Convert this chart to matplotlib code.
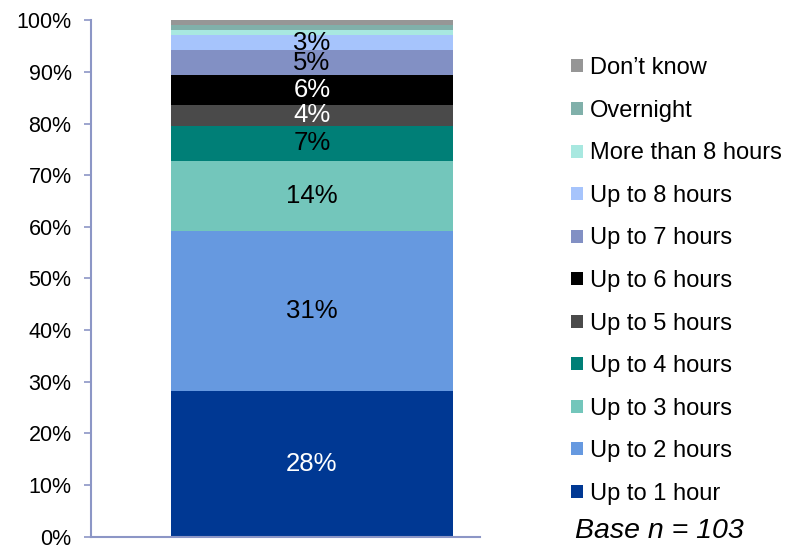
import numpy as np
import matplotlib.pyplot as plt
from matplotlib.patches import Patch
from matplotlib.ticker import PercentFormatter

plt.rcParams['font.family'] = ['Liberation Sans', 'DejaVu Sans']

# Respondents per answer (base n = 103), bottom to top of the stack
categories = ["Up to 1 hour", "Up to 2 hours", "Up to 3 hours", "Up to 4 hours",
              "Up to 5 hours", "Up to 6 hours", "Up to 7 hours", "Up to 8 hours",
              "More than 8 hours", "Overnight", "Don\u2019t know"]
counts = [29, 32, 14, 7, 4, 6, 5, 3, 1, 1, 1]
colors = ["#003893", "#6699e0", "#73c6bb", "#007f77", "#4a4a4a", "#000000",
          "#8290c4", "#a6c4fc", "#a8e8e0", "#80b0aa", "#969696"]
label_colors = ["white", "black", "black", "black", "white", "white",
                "black", "black", None, None, None]
base_n = 103

shares = np.array(counts) / base_n * 100

fig = plt.figure(figsize=(7.85, 5.46), dpi=100)
ax = fig.add_axes([0.116, 0.017, 0.495, 0.946])

axis_col = "#8c96c6"
bottom = 0
for share, col, lcol in zip(shares, colors, label_colors):
    ax.bar(0, share, width=1, bottom=bottom, color=col, edgecolor="none")
    if lcol is not None:
        ax.text(0, bottom + share / 2, f"{share:.0f}%", ha="center", va="center",
                fontsize=18.5, color=lcol)
    bottom += share

ax.set_xlim(-0.784, 0.596)
ax.set_ylim(0, 100)
ax.set_yticks(np.arange(0, 101, 10))
ax.yaxis.set_major_formatter(PercentFormatter(decimals=0))
ax.tick_params(axis="y", labelsize=15.5, colors=axis_col, labelcolor="black",
               length=5, width=1.2, direction="out", pad=9)
ax.set_xticks([])
for side in ["top", "right"]:
    ax.spines[side].set_visible(False)
for side in ["left", "bottom"]:
    ax.spines[side].set_color(axis_col)
    ax.spines[side].set_linewidth(1.5)

handles = [Patch(facecolor=c, edgecolor="none") for c in colors[::-1]]
fig.legend(handles, categories[::-1], loc="upper left",
           bbox_to_anchor=(0.728, 0.895), frameon=False, fontsize=17,
           handlelength=0.47, handleheight=0.47, handletextpad=0.3,
           labelspacing=0.87, borderpad=0, borderaxespad=0)

fig.text(0.732, 0.028, "Base n = 103", fontsize=20.5, style="italic",
         ha="left", va="center")

fig.savefig("out.png", dpi=100)
